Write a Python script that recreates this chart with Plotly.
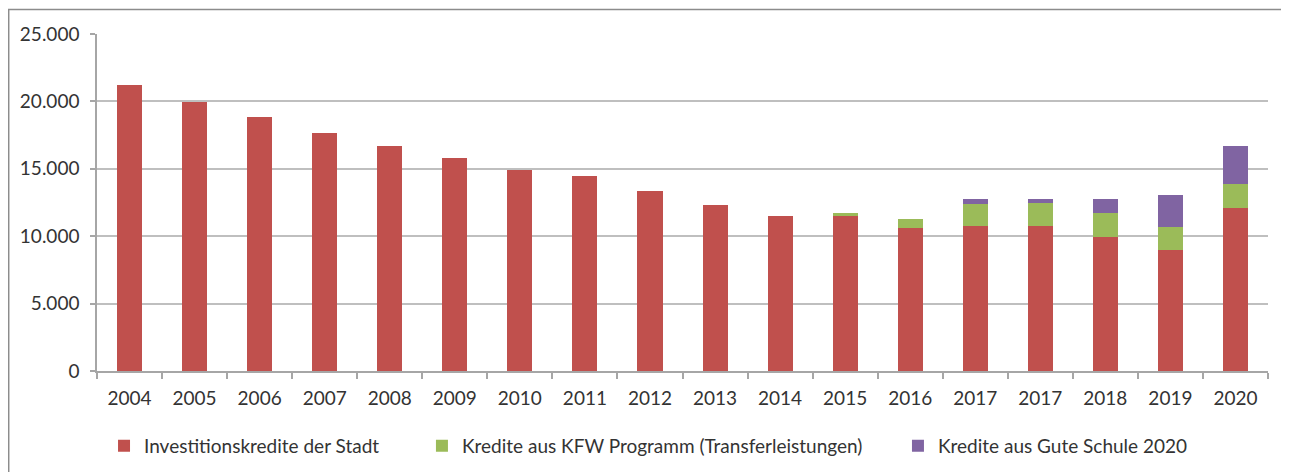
import plotly.graph_objects as go

categories = ["2004", "2005", "2006", "2007", "2008", "2009", "2010", "2011", "2012",
              "2013", "2014", "2015", "2016", "2017", "2017", "2018", "2019", "2020"]
investitionskredite = [21200, 19950, 18830, 17690, 16690, 15800, 14910, 14460, 13350,
                       12310, 11500, 11500, 10630, 10780, 10760, 9940, 8950, 12090]
kfw_kredite = [None, None, None, None, None, None, None, None, None,
               None, None, 250, 620, 1630, 1680, 1780, 1750, 1800]
gute_schule = [None, None, None, None, None, None, None, None, None,
               None, None, None, None, 330, 300, 1015, 2330, 2800]
series_names = ["Investitionskredite der Stadt",
                "Kredite aus KFW Programm (Transferleistungen)",
                "Kredite aus Gute Schule 2020"]
y_ticks = [0, 5000, 10000, 15000, 20000, 25000]

colors = ["#C0504D", "#9BBB59", "#8064A2"]
positions = list(range(len(categories)))
font_family = "Lato, 'Open Sans', sans-serif"
text_color = "#333333"
grid_color = "#BFBFBF"
axis_color = "#A6A6A6"

fig = go.Figure()
for i, (name, vals) in enumerate(zip(series_names, [investitionskredite, kfw_kredite, gute_schule])):
    fig.add_trace(go.Bar(
        x=positions, y=vals, name=name, showlegend=True,
        marker=dict(color=colors[i], line=dict(width=0)),
        legend="legend" if i == 0 else f"legend{i + 1}",
    ))

legend_common = dict(orientation="h", yanchor="middle", y=-0.222, xanchor="left",
                     font=dict(family=font_family, size=19, color=text_color),
                     bgcolor="rgba(0,0,0,0)", borderwidth=0)

fig.update_layout(
    width=1281, height=464,
    margin=dict(l=89, r=21, t=26, b=101, autoexpand=False),
    paper_bgcolor="white", plot_bgcolor="white",
    barmode="stack", bargap=0.615,
    separators=",.",
    showlegend=True,
    font=dict(family=font_family, size=19, color=text_color),
    legend=dict(x=0.006, **legend_common),
    legend2=dict(x=0.2775, **legend_common),
    legend3=dict(x=0.684, **legend_common),
    xaxis=dict(
        range=[-0.5, len(categories) - 0.5],
        tickmode="array", tickvals=positions, ticktext=categories,
        ticks="", showgrid=False,
        showline=True, linecolor=axis_color, linewidth=1.5,
        ticklabelstandoff=9,
        minor=dict(tick0=0.5, dtick=1, ticks="outside", ticklen=6,
                   tickcolor=axis_color, tickwidth=1.5, showgrid=False),
        zeroline=False, fixedrange=True,
    ),
    yaxis=dict(
        range=[0, 25000], tickmode="array", tickvals=y_ticks,
        tickformat=",d",
        showgrid=True, gridcolor=grid_color, gridwidth=1.5,
        showline=True, linecolor=axis_color, linewidth=1.5,
        ticks="outside", ticklen=5, tickcolor=axis_color, tickwidth=1.5,
        ticklabelstandoff=7,
        zeroline=False, fixedrange=True,
    ),
    shapes=[dict(type="rect", xref="paper", yref="paper",
                 x0=-0.0754, x1=1.0171, y0=-0.33, y1=1.0727,
                 line=dict(color="#8C8C8C", width=1.5), fillcolor="rgba(0,0,0,0)",
                 layer="below")],
)

fig.write_html("out.html")
